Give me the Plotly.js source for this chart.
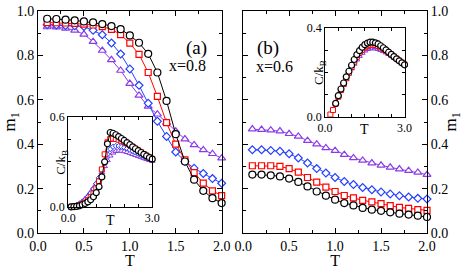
<!DOCTYPE html>
<html><head>
<script src="https://cdn.plot.ly/plotly-3.0.1.min.js"></script>
<style>body{margin:0;background:#fff}#chart{width:463px;height:269px}</style>
</head><body><div id="chart"></div>
<script>
// Main panels: T from 0.1 to 2.0
var T_main = [0.1,0.2,0.3,0.4,0.5,0.6,0.7,0.8,0.9,1.0,1.1,1.2,1.3,1.4,1.5,1.6,1.7,1.8,1.9,2.0];
// panel (a), x = 0.8
var a_black  = [0.965,0.964,0.961,0.958,0.953,0.949,0.941,0.932,0.918,0.890,0.857,0.807,0.723,0.595,0.445,0.322,0.240,0.190,0.157,0.135];
var a_red    = [0.948,0.947,0.946,0.944,0.941,0.937,0.930,0.917,0.894,0.855,0.805,0.723,0.615,0.497,0.400,0.330,0.272,0.225,0.190,0.168];
var a_blue   = [0.938,0.937,0.935,0.933,0.930,0.913,0.893,0.856,0.806,0.739,0.665,0.584,0.503,0.435,0.365,0.322,0.292,0.268,0.245,0.224];
var a_purple = [0.928,0.927,0.922,0.913,0.895,0.862,0.822,0.780,0.732,0.673,0.620,0.570,0.535,0.497,0.458,0.423,0.397,0.374,0.357,0.337];
// panel (b), x = 0.6
var b_black  = [0.263,0.263,0.260,0.255,0.245,0.230,0.210,0.187,0.168,0.150,0.135,0.124,0.113,0.105,0.100,0.093,0.087,0.083,0.078,0.072];
var b_red    = [0.303,0.303,0.303,0.300,0.290,0.274,0.250,0.229,0.207,0.187,0.169,0.158,0.147,0.140,0.132,0.123,0.115,0.111,0.105,0.102];
var b_blue   = [0.375,0.375,0.372,0.368,0.357,0.338,0.315,0.290,0.270,0.250,0.232,0.218,0.205,0.195,0.185,0.176,0.168,0.162,0.156,0.153];
var b_purple = [0.468,0.466,0.463,0.459,0.447,0.435,0.416,0.400,0.383,0.371,0.353,0.338,0.327,0.315,0.305,0.296,0.288,0.281,0.273,0.263];

// Inset (a): specific heat, T from 0.1 to 3.0
var T_ins = [0.1,0.2,0.3,0.4,0.5,0.6,0.7,0.8,0.9,1.0,1.1,1.2,1.3,1.4,1.5,1.6,1.7,1.8,1.9,2.0,2.1,2.2,2.3,2.4,2.5,2.6,2.7,2.8,2.9,3.0];
var ia_black  = [0.001,0.002,0.004,0.008,0.015,0.023,0.034,0.048,0.068,0.095,0.135,0.200,0.300,0.420,0.495,0.490,0.480,0.468,0.455,0.442,0.428,0.414,0.400,0.387,0.374,0.362,0.350,0.339,0.328,0.318];
var ia_red    = [0.002,0.004,0.007,0.012,0.020,0.030,0.045,0.065,0.090,0.125,0.170,0.250,0.350,0.430,0.452,0.455,0.452,0.447,0.440,0.432,0.422,0.412,0.400,0.388,0.376,0.364,0.352,0.341,0.330,0.320];
var ia_blue   = [0.003,0.006,0.012,0.020,0.032,0.048,0.068,0.092,0.120,0.155,0.195,0.240,0.300,0.350,0.385,0.400,0.405,0.405,0.400,0.395,0.388,0.380,0.371,0.362,0.353,0.344,0.336,0.328,0.320,0.313];
var ia_purple = [0.004,0.008,0.015,0.025,0.038,0.055,0.075,0.100,0.128,0.160,0.195,0.230,0.270,0.310,0.340,0.360,0.370,0.373,0.372,0.369,0.364,0.358,0.351,0.344,0.337,0.330,0.323,0.317,0.311,0.305];

// Inset (b)
var T_ib_red = [0.2,0.3,0.4,0.5,0.6,0.7,0.8,0.9,1.0,1.1,1.2,1.3,1.4,1.5,1.6,1.7,1.8,1.9,2.0,2.1,2.2,2.3,2.4,2.5,2.6,2.7,2.8,2.9,3.0];
var T_ib = [0.4,0.5,0.6,0.7,0.8,0.9,1.0,1.1,1.2,1.3,1.4,1.5,1.6,1.7,1.8,1.9,2.0,2.1,2.2,2.3,2.4,2.5,2.6,2.7,2.8,2.9,3.0];
var ib_black  = [0.060,0.095,0.125,0.152,0.180,0.205,0.232,0.258,0.280,0.298,0.313,0.325,0.332,0.336,0.336,0.333,0.328,0.320,0.311,0.301,0.291,0.281,0.271,0.261,0.252,0.243,0.234];
var ib_red    = [0.010,0.030,0.058,0.090,0.120,0.147,0.173,0.198,0.224,0.248,0.270,0.288,0.302,0.313,0.320,0.324,0.325,0.323,0.319,0.313,0.306,0.298,0.289,0.280,0.271,0.262,0.253,0.244,0.236];
var ib_blue   = [0.060,0.092,0.120,0.147,0.173,0.198,0.222,0.245,0.265,0.282,0.296,0.306,0.313,0.317,0.318,0.316,0.313,0.308,0.302,0.295,0.287,0.279,0.270,0.262,0.253,0.245,0.237];
var ib_purple = [0.060,0.090,0.118,0.144,0.170,0.194,0.217,0.238,0.257,0.273,0.287,0.297,0.304,0.307,0.308,0.307,0.304,0.300,0.295,0.289,0.282,0.275,0.267,0.259,0.251,0.243,0.236];

var C_BLACK = '#000000', C_RED = '#ff0000', C_BLUE = '#2440ff', C_PURPLE = '#8a3be6';

function tr(x, y, xa, ya, color, symbol, size, mw) {
  return {x: x, y: y, xaxis: xa, yaxis: ya, type: 'scatter', mode: 'lines+markers',
    cliponaxis: false, showlegend: false, hoverinfo: 'skip',
    line: {color: color, width: 1},
    marker: {symbol: symbol, size: size, color: '#ffffff', line: {color: color, width: mw || 1.2}}};
}

var data = [
  tr(T_main, a_purple, 'x', 'y', C_PURPLE, 'triangle-up', 7),
  tr(T_main, a_blue, 'x', 'y', C_BLUE, 'diamond', 6),
  tr(T_main, a_red, 'x', 'y', C_RED, 'square', 6),
  tr(T_main, a_black, 'x', 'y', C_BLACK, 'circle', 7),
  tr(T_main, b_purple, 'x2', 'y2', C_PURPLE, 'triangle-up', 7),
  tr(T_main, b_blue, 'x2', 'y2', C_BLUE, 'diamond', 6),
  tr(T_main, b_red, 'x2', 'y2', C_RED, 'square', 6),
  tr(T_main, b_black, 'x2', 'y2', C_BLACK, 'circle', 7),
  tr(T_ins, ia_purple, 'x3', 'y3', C_PURPLE, 'triangle-up', 5, 1),
  tr(T_ins, ia_blue, 'x3', 'y3', C_BLUE, 'diamond', 4, 1),
  tr(T_ins, ia_red, 'x3', 'y3', C_RED, 'square', 5, 1),
  tr(T_ins, ia_black, 'x3', 'y3', C_BLACK, 'circle', 6),
  tr(T_ib, ib_purple, 'x4', 'y4', C_PURPLE, 'triangle-up', 5, 1),
  tr(T_ib, ib_blue, 'x4', 'y4', C_BLUE, 'diamond', 4, 1),
  tr(T_ib_red, ib_red, 'x4', 'y4', C_RED, 'square', 5, 1),
  tr(T_ib, ib_black, 'x4', 'y4', C_BLACK, 'circle', 6)
];

var FONT = 'Liberation Serif';
function ax(o) {
  var base = {showgrid: false, zeroline: false, showline: true, linecolor: '#000', linewidth: 1,
    mirror: 'allticks', ticks: 'inside', ticklen: 5, tickwidth: 1, tickcolor: '#000',
    tickformat: '.1f', tickfont: {family: FONT, size: 14, color: '#000'}, automargin: false,
    minor: {ticks: 'inside', ticklen: 3, tickwidth: 1, tickcolor: '#000'}};
  for (var k in o) base[k] = o[k];
  return base;
}

var layout = {
  width: 463, height: 269, margin: {l: 37.7, r: 36, t: 11.3, b: 35.7},
  paper_bgcolor: '#fff', plot_bgcolor: '#fff',
  font: {family: FONT, color: '#000', size: 14},
  xaxis: ax({domain: [0, 0.4721], range: [0, 2], dtick: 0.5, anchor: 'y',
    minor: {dtick: 0.25, ticks: 'inside', ticklen: 3, tickcolor: '#000'},
    title: {text: 'T', font: {family: FONT, size: 16}, standoff: 5}}),
  yaxis: ax({domain: [0, 1], range: [0, 1], dtick: 0.2, anchor: 'x',
    minor: {dtick: 0.1, ticks: 'inside', ticklen: 3, tickcolor: '#000'},
    title: {text: 'm<sub>1</sub>', font: {family: FONT, size: 17}, standoff: 3}}),
  xaxis2: ax({domain: [0.5274, 1], range: [0, 2], dtick: 0.5, anchor: 'y2',
    minor: {dtick: 0.25, ticks: 'inside', ticklen: 3, tickcolor: '#000'},
    title: {text: 'T', font: {family: FONT, size: 16}, standoff: 5}}),
  yaxis2: ax({domain: [0, 1], range: [0, 1], dtick: 0.2, anchor: 'x2', side: 'right',
    minor: {dtick: 0.1, ticks: 'inside', ticklen: 3, tickcolor: '#000'},
    title: {text: 'm<sub>1</sub>', font: {family: FONT, size: 17}, standoff: 3}}),
  xaxis3: ax({domain: [0.0778, 0.2936], range: [0, 3], dtick: 3, anchor: 'y3', ticklen: 4,
    tickfont: {family: FONT, size: 12, color: '#000'},
    minor: {dtick: 0.5, ticks: 'inside', ticklen: 3, tickcolor: '#000'}}),
  yaxis3: ax({domain: [0.1171, 0.5239], range: [0, 0.6], dtick: 0.6, anchor: 'x3', ticklen: 4,
    tickfont: {family: FONT, size: 12, color: '#000'},
    minor: {dtick: 0.15, ticks: 'inside', ticklen: 3, tickcolor: '#000'}}),
  xaxis4: ax({domain: [0.738, 0.9422], range: [0, 3], dtick: 3, anchor: 'y4', ticklen: 4,
    tickfont: {family: FONT, size: 12, color: '#000'},
    minor: {dtick: 0.5, ticks: 'inside', ticklen: 3, tickcolor: '#000'}}),
  yaxis4: ax({domain: [0.5239, 0.9234], range: [0, 0.4], dtick: 0.4, anchor: 'x4', ticklen: 4,
    tickfont: {family: FONT, size: 12, color: '#000'},
    minor: {dtick: 0.1, ticks: 'inside', ticklen: 3, tickcolor: '#000'}}),
  annotations: [
    {text: '(a)', xref: 'paper', yref: 'paper', x: 0.4079, y: 0.8932, showarrow: false, font: {family: FONT, size: 19}},
    {text: 'x=0.8', xref: 'paper', yref: 'paper', x: 0.3856, y: 0.8009, showarrow: false, font: {family: FONT, size: 16}},
    {text: '(b)', xref: 'paper', yref: 'paper', x: 0.5923, y: 0.8932, showarrow: false, font: {family: FONT, size: 19}},
    {text: 'x=0.6', xref: 'paper', yref: 'paper', x: 0.6075, y: 0.7964, showarrow: false, font: {family: FONT, size: 16}},
    {text: 'T', xref: 'x3 domain', yref: 'y3 domain', x: 0.5, y: -0.04, yanchor: 'top', showarrow: false, font: {family: FONT, size: 14}},
    {text: 'C/k<sub>B</sub>', xref: 'x3 domain', yref: 'y3 domain', x: -0.2, y: 0.5, textangle: -90, showarrow: false, font: {family: FONT, size: 13}},
    {text: 'T', xref: 'x4 domain', yref: 'y4 domain', x: 0.5, y: -0.04, yanchor: 'top', showarrow: false, font: {family: FONT, size: 14}},
    {text: 'C/k<sub>B</sub>', xref: 'x4 domain', yref: 'y4 domain', x: -0.2, y: 0.5, textangle: -90, showarrow: false, font: {family: FONT, size: 13}}
  ]
};

Plotly.newPlot('chart', data, layout, {staticPlot: true, displayModeBar: false});
</script></body></html>
